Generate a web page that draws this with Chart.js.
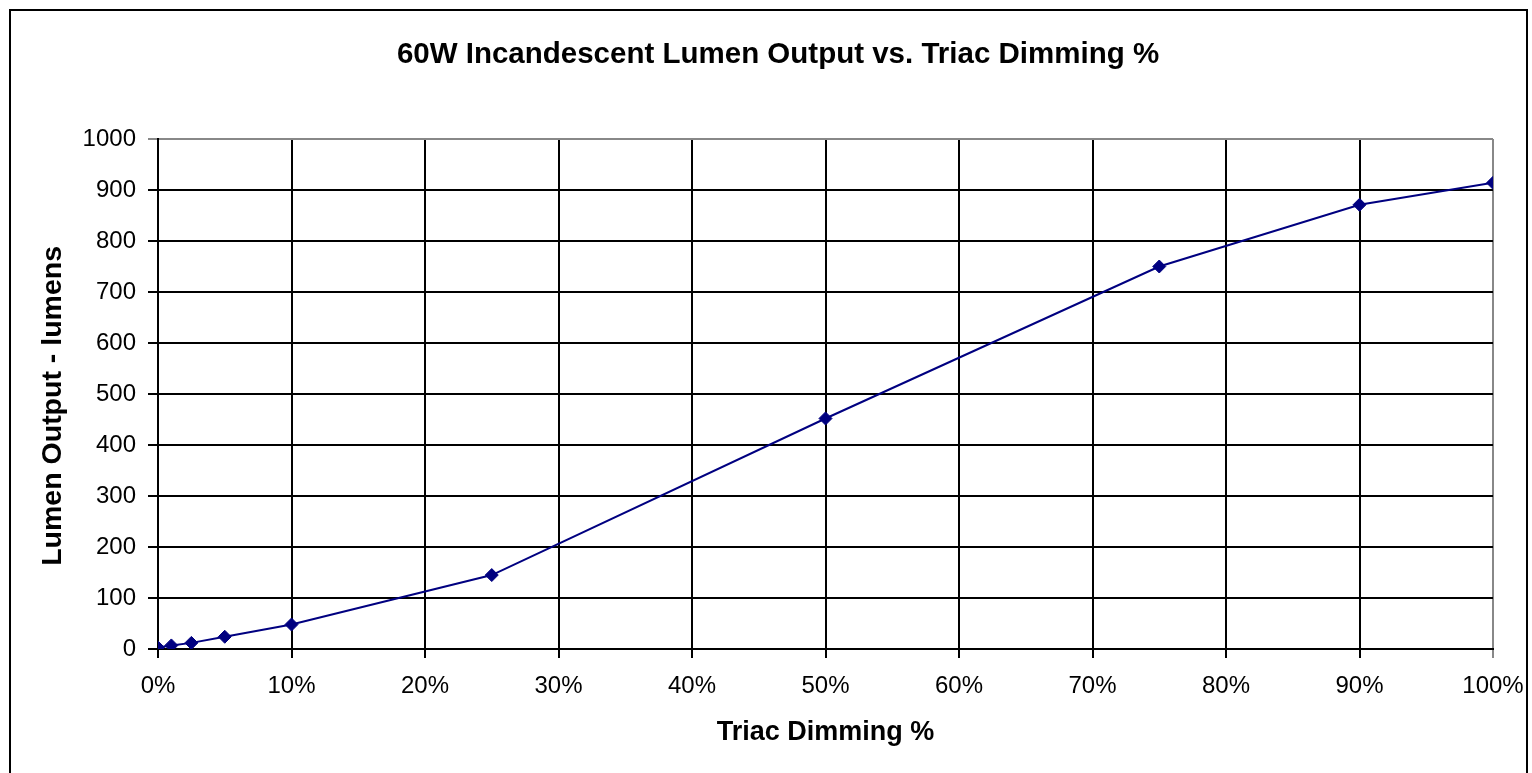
<!DOCTYPE html>
<html>
<head>
<meta charset="utf-8">
<script src="https://cdn.jsdelivr.net/npm/chart.js@4/dist/chart.umd.min.js"></script>
<style>
  body { margin: 0; background: #fff; }
  #marco { position: absolute; left: 9px; top: 9px; width: 1519px; height: 770px; border: 2px solid #000; box-sizing: border-box; border-bottom: none; }
  #caja { position: absolute; left: 0; top: 0; width: 1532px; height: 773px; }
</style>
</head>
<body>
<div id="marco"></div>
<div id="caja"><canvas id="grafico"></canvas></div>
<script>
// datos
var dimming = [0, 1, 2.5, 5, 10, 25, 50, 75, 90, 100];
var lumenes = [3, 7, 12, 24, 48, 145, 452, 750, 871, 914];
var titulo = "60W Incandescent Lumen Output vs. Triac Dimming %";
var tituloX = "Triac Dimming %";
var tituloY = "Lumen Output - lumens   ";

var puntos = dimming.map(function (d, i) { return { x: d, y: lumenes[i] }; });

Chart.defaults.font.family = "'Liberation Sans', Arial, sans-serif";
Chart.defaults.color = "#000";

new Chart(document.getElementById("grafico"), {
  type: "line",
  data: {
    datasets: [{
      label: "Lumen Output",
      data: puntos,
      borderColor: "#000080",
      backgroundColor: "#000080",
      borderWidth: 2,
      pointStyle: "rectRot",
      pointRadius: 6.5,
      pointBorderWidth: 1,
      pointHoverRadius: 6.5,
      fill: false,
      tension: 0
    }]
  },
  options: {
    responsive: true,
    maintainAspectRatio: false,
    animation: false,
    layout: { padding: { left: 24, right: 0, top: 0, bottom: 0 } },
    plugins: {
      legend: { display: false },
      tooltip: { enabled: false },
      title: {
        display: true,
        text: titulo,
        font: { size: 29.5, weight: "bold" },
        padding: { top: 37, bottom: 66.6 }
      }
    },
    scales: {
      x: {
        type: "linear",
        min: 0,
        max: 100,
        afterFit: function (s) { s.height = 124; s.paddingRight = 0; s.paddingLeft = 0; },
        ticks: {
          stepSize: 10,
          font: { size: 24 },
          padding: 14,
          callback: function (v) { return v + "%"; }
        },
        grid: {
          color: function (ctx) { return ctx.tick && ctx.tick.value === 100 ? "#888" : "#000"; },
          lineWidth: 2,
          tickLength: 9
        },
        border: { color: "#000", width: 2 },
        title: { display: true, text: tituloX, font: { size: 27, weight: "bold" }, padding: { top: 0, bottom: 24 } }
      },
      y: {
        min: 0,
        max: 1000,
        afterFit: function (s) { s.width = 134; },
        ticks: {
          stepSize: 100,
          font: { size: 24 },
          padding: 12,
          callback: function (v) { return String(v); }
        },
        grid: {
          color: function (ctx) { return ctx.tick && ctx.tick.value === 1000 ? "#888" : "#000"; },
          lineWidth: 2,
          tickLength: 10
        },
        border: { color: "#000", width: 2 },
        title: { display: true, text: tituloY, font: { size: 28.5, weight: "bold" }, padding: { top: 12, bottom: 0 } }
      },
      derecha: {
        position: "right",
        min: 0,
        max: 1000,
        afterFit: function (s) { s.width = 39; },
        ticks: { display: false },
        grid: { display: false, drawTicks: false },
        border: { display: false }
      }
    }
  }
});
</script>
</body>
</html>
